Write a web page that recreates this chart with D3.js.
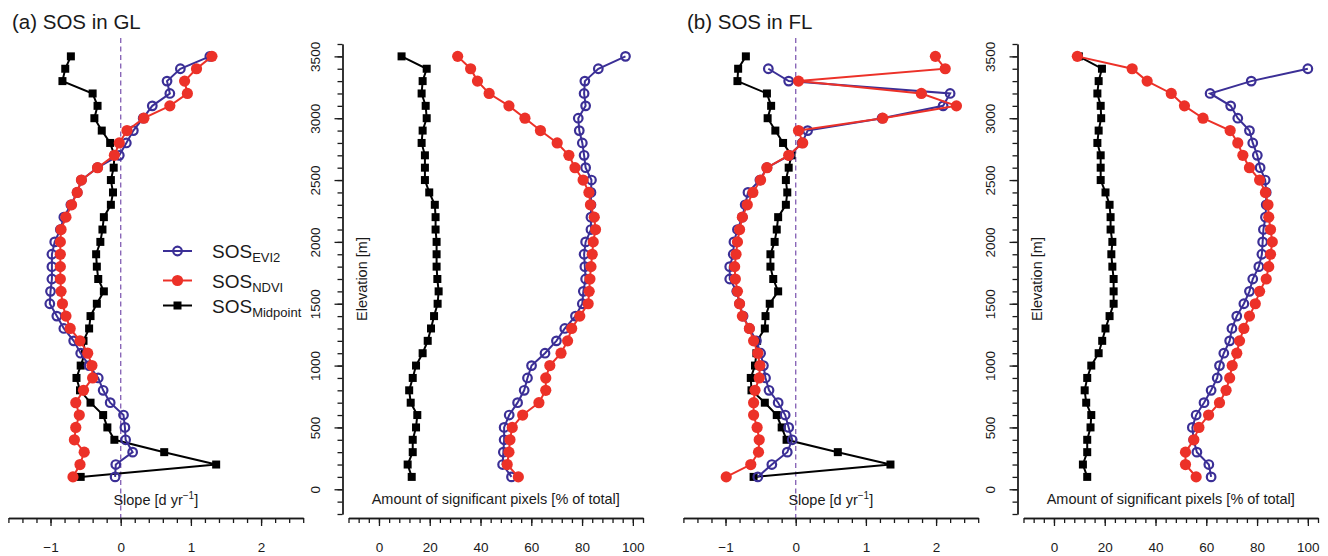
<html>
<head>
	<meta charset="UTF-8">
	<title>SOS in GL and FL</title>
	<script src="https://cdn.jsdelivr.net/npm/d3@7"></script>
	<style>
		body {
			padding: 0;
			margin: 0;
			background: #ffffff;
		}
		text {
			font-family: "Liberation Sans", Arial, Helvetica, sans-serif;
			fill: #1a1a1a;
		}
	</style>
</head>

<body>
	<script>
		// elevation bands [m], bottom to top
		var elevation = [100, 200, 300, 400, 500, 600, 700, 800, 900, 1000,
			1100, 1200, 1300, 1400, 1500, 1600, 1700, 1800, 1900, 2000,
			2100, 2200, 2300, 2400, 2500, 2600, 2700, 2800, 2900, 3000,
			3100, 3200, 3300, 3400, 3500];

		// (a) GL : slope [d/yr]
		var glSlopeEvi2 = [-0.08, -0.07, 0.17, 0.07, 0.06, 0.04, -0.15, -0.25, -0.32, -0.45,
			-0.57, -0.67, -0.81, -0.91, -1.01, -1.00, -0.98, -0.98, -0.98, -0.94,
			-0.86, -0.81, -0.71, -0.62, -0.56, -0.33, -0.02, 0.08, 0.18, 0.32,
			0.45, 0.70, 0.66, 0.85, 1.27];
		var glSlopeNdvi = [-0.68, -0.58, -0.52, -0.66, -0.64, -0.59, -0.64, -0.53, -0.40, -0.41,
			-0.47, -0.58, -0.72, -0.78, -0.83, -0.85, -0.86, -0.86, -0.86, -0.86,
			-0.85, -0.78, -0.70, -0.62, -0.56, -0.33, -0.09, -0.02, 0.09, 0.33,
			0.70, 0.95, 0.91, 1.08, 1.30];
		var glSlopeMid = [-0.57, 1.36, 0.62, -0.09, -0.19, -0.25, -0.43, -0.58, -0.63, -0.57,
			-0.51, -0.53, -0.45, -0.43, -0.34, -0.24, -0.32, -0.34, -0.35, -0.29,
			-0.26, -0.24, -0.14, -0.11, -0.14, -0.10, -0.09, -0.15, -0.27, -0.375,
			-0.33, -0.40, -0.83, -0.79, -0.71];

		// (a) GL : significant pixels [%]
		var glPctEvi2 = [52.2, 48.7, 49.0, 49.3, 49.3, 51.3, 54.6, 57.2, 58.5, 60.1,
			65.4, 69.9, 73.2, 77.4, 80.1, 80.5, 81.4, 81.1, 80.8, 81.4,
			83.5, 83.5, 83.5, 83.5, 83.7, 81.4, 80.8, 80.1, 78.9, 78.5,
			81.4, 80.8, 81.1, 86.4, 97.1];
		var glPctNdvi = [54.9, 50.5, 51.2, 51.6, 52.5, 56.6, 63.0, 65.7, 65.7, 67.3,
			71.7, 74.3, 75.9, 79.1, 82.4, 82.8, 83.1, 83.5, 84.0, 84.4,
			85.3, 84.8, 83.3, 82.7, 80.4, 77.2, 74.8, 70.2, 63.6, 57.5,
			51.2, 43.4, 38.8, 36.1, 31.0];
		var glPctMid = [12.9, 11.3, 13.3, 13.3, 14.6, 15.1, 12.5, 11.9, 13.3, 14.6,
			17.2, 19.2, 20.5, 21.7, 23.1, 23.5, 23.0, 22.7, 22.7, 22.7,
			22.3, 22.3, 22.0, 19.8, 18.1, 18.1, 18.1, 16.8, 17.2, 18.8,
			18.4, 16.8, 17.2, 18.8, 8.9];

		// (b) FL : slope [d/yr]
		var flSlopeEvi2 = [-0.54, -0.34, -0.12, -0.05, -0.10, -0.15, -0.25, -0.38, -0.43, -0.46,
			-0.50, -0.56, -0.66, -0.75, -0.80, -0.84, -0.94, -0.94, -0.89, -0.88,
			-0.83, -0.76, -0.72, -0.68, -0.51, -0.41, -0.09, 0.09, 0.17, 1.23,
			2.10, 2.20, -0.10, -0.39, null];
		var flSlopeNdvi = [-0.99, -0.64, -0.53, -0.52, -0.55, -0.60, -0.60, -0.58, -0.52, -0.51,
			-0.54, -0.60, -0.66, -0.76, -0.80, -0.83, -0.86, -0.87, -0.85, -0.83,
			-0.80, -0.76, -0.69, -0.61, -0.50, -0.41, -0.10, 0.10, 0.04, 1.24,
			2.29, 1.79, 0.04, 2.13, 1.99];
		var flSlopeMid = [-0.60, 1.35, 0.60, -0.13, -0.20, -0.27, -0.44, -0.63, -0.64, -0.58,
			-0.56, -0.55, -0.44, -0.43, -0.37, -0.25, -0.32, -0.36, -0.36, -0.30,
			-0.27, -0.25, -0.14, -0.12, -0.14, -0.10, -0.06, -0.18, -0.29, -0.40,
			-0.35, -0.41, -0.83, -0.82, -0.71];

		// (b) FL : significant pixels [%]
		var flPctEvi2 = [61.9, 61.0, 56.3, 55.0, 54.5, 56.0, 59.1, 61.9, 64.3, 65.2,
			66.9, 69.2, 70.1, 72.0, 74.8, 77.0, 78.3, 80.7, 81.9, 82.2,
			82.5, 83.3, 83.6, 83.6, 83.2, 81.2, 80.1, 78.3, 77.0, 72.4,
			69.6, 61.5, 77.7, 100.0, null];
		var flPctNdvi = [56.0, 51.8, 51.8, 55.1, 57.1, 60.9, 65.2, 67.8, 69.2, 70.2,
			72.0, 73.1, 74.8, 77.0, 79.3, 81.0, 83.6, 84.6, 85.3, 86.0,
			85.3, 84.6, 84.3, 83.3, 81.0, 77.0, 74.4, 72.4, 69.4, 58.7,
			51.4, 46.2, 36.7, 30.8, 9.2];
		var flPctMid = [13.1, 11.4, 13.1, 13.1, 14.4, 14.7, 12.7, 12.1, 13.1, 14.7,
			17.6, 19.0, 20.3, 21.9, 23.5, 23.5, 23.5, 23.0, 22.6, 23.0,
			22.3, 22.3, 21.9, 20.3, 18.4, 18.4, 18.4, 17.1, 17.6, 18.6,
			18.4, 17.1, 17.6, 18.9, 9.8];

		// tick labels
		var slopeTicks = [-1, 0, 1, 2];
		var pctTicks = [0, 20, 40, 60, 80, 100];
		var elevTicks = [0, 500, 1000, 1500, 2000, 2500, 3000, 3500];

		var panels = [
			{ dx: 0, title: "(a) SOS in GL", legend: true,
				slope: [glSlopeMid, glSlopeEvi2, glSlopeNdvi],
				pct: [glPctMid, glPctEvi2, glPctNdvi] },
			{ dx: 675, title: "(b) SOS in FL", legend: false,
				slope: [flSlopeMid, flSlopeEvi2, flSlopeNdvi],
				pct: [flPctMid, flPctEvi2, flPctNdvi] }
		];

		// drawing order: midpoint, evi2, ndvi (ndvi ends on top)
		var series = ["mid", "evi2", "ndvi"];
		var blue = "#3b2f96",
			red = "#ec3128";
		var lineColor = { mid: "#000000", evi2: blue, ndvi: red };
		var intFmt = d3.format("d");

		var w = 1328,
			h = 556,
			axisY = 518;

		var svg = d3.select("body").append("svg")
			.attr("width", w)
			.attr("height", h);

		var y = d3.scaleLinear().domain([-200, 3600]).range([514, 44]);

		function marker(g, kind, px, py) {
			if (kind == "mid") {
				g.append("rect")
					.attr("x", px - 4).attr("y", py - 4)
					.attr("width", 8).attr("height", 8)
					.attr("fill", "#000");
			} else if (kind == "evi2") {
				g.append("circle")
					.attr("cx", px).attr("cy", py).attr("r", 4.3)
					.attr("fill", "none")
					.attr("stroke", blue)
					.attr("stroke-width", 2.2);
			} else {
				g.append("circle")
					.attr("cx", px).attr("cy", py).attr("r", 5.6)
					.attr("fill", red);
			}
		}

		function drawSeries(g, x, values, kind) {
			var pts = elevation.map(function (e, i) { return { e: e, v: values[i] }; });
			var line = d3.line()
				.defined(function (d) { return d.v != null; })
				.x(function (d) { return x(d.v); })
				.y(function (d) { return y(d.e); });
			g.append("path")
				.datum(pts)
				.attr("d", line)
				.attr("fill", "none")
				.attr("stroke", lineColor[kind])
				.attr("stroke-width", 2);
			pts.filter(function (d) { return d.v != null; }).forEach(function (d) {
				marker(g, kind, x(d.v), y(d.e));
			});
		}

		function styleAxis(a) {
			a.attr("font-size", null).attr("font-family", null);
			a.selectAll("path, line").attr("stroke", "#1a1a1a").attr("stroke-width", 1.3);
			a.selectAll("text").attr("font-size", "13.5px");
		}

		function bottomAxis(g, x, minor, major) {
			var a1 = g.append("g").attr("transform", "translate(0," + axisY + ")")
				.call(d3.axisBottom(x).tickValues(minor).tickSize(5).tickSizeOuter(0).tickFormat(""));
			var a2 = g.append("g").attr("transform", "translate(0," + axisY + ")")
				.call(d3.axisBottom(x).tickValues(major).tickSize(8).tickSizeOuter(0).tickPadding(16).tickFormat(intFmt));
			styleAxis(a1);
			styleAxis(a2);
		}

		panels.forEach(function (p) {
			var g = svg.append("g");
			var xs = d3.scaleLinear().domain([-1.6, 2.6]).range([8.4 + p.dx, 303.2 + p.dx]);
			var xp = d3.scaleLinear().domain([-12, 104]).range([348.5 + p.dx, 643 + p.dx]);
			var ax = 342.5 + p.dx;

			// title
			g.append("text")
				.attr("x", 12 + p.dx).attr("y", 29)
				.attr("font-size", "20.5px")
				.text(p.title);

			// zero line
			g.append("line")
				.attr("x1", xs(0)).attr("x2", xs(0))
				.attr("y1", 38).attr("y2", axisY)
				.attr("stroke", "#8a68b8")
				.attr("stroke-width", 1.4)
				.attr("stroke-dasharray", "5,3.5");

			// slope panel
			series.forEach(function (s, i) { drawSeries(g, xs, p.slope[i], s); });
			bottomAxis(g, xs, d3.range(-16, 27, 2).map(function (v) { return v / 10; }), slopeTicks);

			var sl = g.append("text")
				.attr("x", (xs.range()[0] + xs.range()[1]) / 2)
				.attr("y", 505)
				.attr("text-anchor", "middle")
				.attr("font-size", "14.5px");
			sl.append("tspan").text("Slope [d yr");
			sl.append("tspan").attr("font-size", "10px").attr("dy", -6).text("\u22121");
			sl.append("tspan").attr("dy", 6).text("]");

			// percentage panel
			series.forEach(function (s, i) { drawSeries(g, xp, p.pct[i], s); });
			bottomAxis(g, xp, d3.range(-12, 105, 4), pctTicks);

			g.append("text")
				.attr("x", (xp.range()[0] + xp.range()[1]) / 2)
				.attr("y", 504)
				.attr("text-anchor", "middle")
				.attr("font-size", "14.5px")
				.text("Amount of significant pixels [% of total]");

			// elevation axis
			var e1 = g.append("g").attr("transform", "translate(" + ax + ",0)")
				.call(d3.axisLeft(y).tickValues(d3.range(-200, 3601, 100)).tickSize(5).tickSizeOuter(0).tickFormat(""));
			var e2 = g.append("g").attr("transform", "translate(" + ax + ",0)")
				.call(d3.axisLeft(y).tickValues(elevTicks).tickSize(8).tickSizeOuter(0).tickFormat(intFmt));
			styleAxis(e1);
			styleAxis(e2);
			e2.selectAll(".tick text")
				.attr("x", null).attr("dy", null)
				.attr("text-anchor", "middle")
				.attr("transform", "translate(-23,0) rotate(-90)");

			g.append("text")
				.attr("transform", "translate(" + (ax + 24) + ",279) rotate(-90)")
				.attr("text-anchor", "middle")
				.attr("font-size", "14.5px")
				.text("Elevation [m]");

			if (p.legend) {
				var labels = [
					{ kind: "evi2", sub: "EVI2", y: 251 },
					{ kind: "ndvi", sub: "NDVI", y: 280.5 },
					{ kind: "mid", sub: "Midpoint", y: 305.5 }
				];
				labels.forEach(function (l) {
					g.append("line")
						.attr("x1", 163).attr("x2", 192)
						.attr("y1", l.y).attr("y2", l.y)
						.attr("stroke", lineColor[l.kind])
						.attr("stroke-width", 2);
					marker(g, l.kind, 177.5, l.y);
					var t = g.append("text")
						.attr("x", 212).attr("y", l.y + 7)
						.attr("font-size", "19px");
					t.append("tspan").text("SOS");
					t.append("tspan").attr("font-size", "13px").attr("dy", 4).text(l.sub);
				});
			}
		});
	</script>
</body>
</html>
